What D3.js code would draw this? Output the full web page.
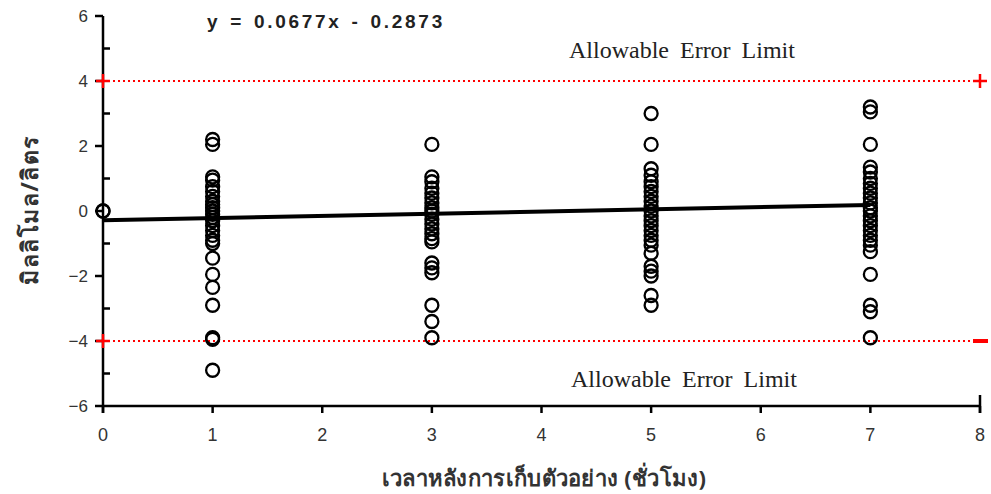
<!DOCTYPE html>
<html>
<head>
<meta charset="utf-8">
<script src="https://cdn.jsdelivr.net/npm/d3@7/dist/d3.min.js"></script>
<style>
  html, body { margin: 0; padding: 0; background: #fff; }
  svg { display: block; }
</style>
</head>
<body>
<svg id="chart" width="991" height="494"></svg>
<script>
// Sampling times (hours) and measured differences (mmol/L) at each time
const hours = [0, 1, 3, 5, 7];
const diffAt0 = [0.0, 0.0];
const diffAt1 = [2.2, 2.05, 1.05, 0.95, 0.75, 0.6, 0.45, 0.3, 0.2, 0.1, 0.0, -0.1, -0.2, -0.3, -0.45, -0.6, -0.75, -0.9, -1.0,
                 -1.45, -1.95, -2.35, -2.9, -3.9, -3.95, -4.9];
const diffAt3 = [2.05, 1.05, 0.9, 0.7, 0.55, 0.4, 0.25, 0.1, 0.0, -0.1, -0.25, -0.4, -0.55, -0.7, -0.85, -0.95,
                 -1.6, -1.75, -1.9, -2.9, -3.4, -3.9];
const diffAt5 = [3.0, 2.05, 1.3, 1.1, 0.9, 0.75, 0.6, 0.45, 0.3, 0.15, 0.0, -0.15, -0.3, -0.45, -0.6, -0.75, -0.9, -1.05,
                 -1.3, -1.7, -1.85, -2.0, -2.6, -2.9];
const diffAt7 = [3.2, 3.05, 2.05, 1.35, 1.2, 1.0, 0.85, 0.7, 0.55, 0.4, 0.25, 0.1, 0.0, -0.15, -0.3, -0.45, -0.6, -0.75,
                 -0.9, -1.05, -1.25, -1.95, -2.9, -3.1, -3.9];

// Regression fit and error limits
const slope = 0.0677;
const intercept = -0.2873;
const fitRange = [0, 7];
const errorLimit = 4;

// Axis ticks
const xTicks = [0, 1, 2, 3, 4, 5, 6, 7, 8];
const yMajorTicks = [-6, -4, -2, 0, 2, 4, 6];
const yMinorTicks = [-5, -3, -1, 1, 3, 5];

const equationText = "y = 0.0677x - 0.2873";
const limitText = "Allowable Error Limit";
const xTitle = "เวลาหลังการเก็บตัวอย่าง (ชั่วโมง)";
const yTitle = "มิลลิโมล/ลิตร";

const svg = d3.select("#chart");
const x = d3.scaleLinear().domain([0, 8]).range([103, 980]);
const y = d3.scaleLinear().domain([-6, 6]).range([406, 16]);

const points = [];
[diffAt0, diffAt1, diffAt3, diffAt5, diffAt7].forEach((arr, i) => {
  arr.forEach(v => points.push({ h: hours[i], v }));
});

// Error limit lines
svg.selectAll("line.limit")
  .data([errorLimit, -errorLimit])
  .join("line")
  .attr("x1", x(0)).attr("x2", x(8))
  .attr("y1", d => y(d)).attr("y2", d => y(d))
  .attr("stroke", "#ff0000")
  .attr("stroke-width", 2)
  .attr("stroke-dasharray", "2,3");

// Axes
const axisG = svg.append("g").attr("stroke", "#000").attr("stroke-width", 2.5);
axisG.append("line").attr("x1", x(0)).attr("x2", x(0)).attr("y1", y(6)).attr("y2", y(-6) + 7);
axisG.append("line").attr("x1", x(0)).attr("x2", x(8)).attr("y1", y(-6)).attr("y2", y(-6));
// end tick at 8 crosses the axis
axisG.append("line").attr("x1", x(8)).attr("x2", x(8)).attr("y1", y(-6) - 11).attr("y2", y(-6) + 7);

// X ticks
axisG.selectAll("line.xt").data(xTicks).join("line")
  .attr("x1", d => x(d)).attr("x2", d => x(d))
  .attr("y1", y(-6)).attr("y2", y(-6) + 7);

// Y ticks: majors outward, minors inward
axisG.selectAll("line.ymaj").data(yMajorTicks).join("line")
  .attr("x1", x(0) - 8).attr("x2", x(0))
  .attr("y1", d => y(d)).attr("y2", d => y(d));
axisG.selectAll("line.ymin").data(yMinorTicks).join("line")
  .attr("x1", x(0)).attr("x2", x(0) + 7)
  .attr("y1", d => y(d)).attr("y2", d => y(d));

// Tick labels
svg.selectAll("text.ylab").data(yMajorTicks).join("text")
  .attr("x", 88).attr("y", d => y(d) + 6)
  .attr("text-anchor", "end")
  .attr("font-family", "Liberation Sans, Arial, sans-serif")
  .attr("font-size", 17)
  .attr("fill", "#333")
  .text(d => d < 0 ? "\u2212" + Math.abs(d) : d);

svg.selectAll("text.xlab").data(xTicks).join("text")
  .attr("x", d => x(d)).attr("y", 441)
  .attr("text-anchor", "middle")
  .attr("font-family", "Liberation Sans Narrow, Arial Narrow, sans-serif")
  .attr("font-size", 18)
  .attr("fill", "#333")
  .text(d => d);

// Error limit markers
const red = svg.append("g").attr("stroke", "#ff0000").attr("stroke-width", 2.5);
[[0, errorLimit], [8, errorLimit], [0, -errorLimit]].forEach(([hx, vy]) => {
  red.append("line").attr("x1", x(hx) - 7).attr("x2", x(hx) + 7).attr("y1", y(vy)).attr("y2", y(vy));
  red.append("line").attr("x1", x(hx)).attr("x2", x(hx)).attr("y1", y(vy) - 7).attr("y2", y(vy) + 7);
});
red.append("line").attr("x1", x(8) - 7).attr("x2", x(8) + 8)
  .attr("y1", y(-errorLimit)).attr("y2", y(-errorLimit)).attr("stroke-width", 4);

// Data points
svg.append("g").selectAll("circle").data(points).join("circle")
  .attr("cx", d => x(d.h)).attr("cy", d => y(d.v))
  .attr("r", 6.5)
  .attr("fill", "none")
  .attr("stroke", "#000")
  .attr("stroke-width", 2.3);

// Regression line
svg.append("line")
  .attr("x1", x(fitRange[0])).attr("y1", y(slope * fitRange[0] + intercept))
  .attr("x2", x(fitRange[1])).attr("y2", y(slope * fitRange[1] + intercept))
  .attr("stroke", "#000").attr("stroke-width", 4);

// Equation
svg.append("text")
  .attr("x", 207).attr("y", 28)
  .attr("font-family", "Liberation Sans, Arial, sans-serif")
  .attr("font-weight", "bold")
  .attr("font-size", 19)
  .attr("letter-spacing", 2.7)
  .attr("word-spacing", 2)
  .attr("fill", "#222")
  .style("white-space", "pre")
  .text(equationText);

// Limit labels
svg.selectAll("text.lim").data([58, 387]).join("text")
  .attr("x", (d, i) => i === 0 ? 569 : 571).attr("y", d => d)
  .attr("font-family", "Liberation Serif, Times New Roman, serif")
  .attr("font-size", 24)
  .attr("word-spacing", 5)
  .attr("fill", "#222")
  .style("white-space", "pre")
  .text(limitText);

// Axis titles
svg.append("text")
  .attr("x", 544).attr("y", 486)
  .attr("text-anchor", "middle")
  .attr("font-family", "Noto Sans, Liberation Sans, sans-serif")
  .attr("font-weight", "bold")
  .attr("font-size", 22)
  .attr("letter-spacing", 0.3)
  .attr("fill", "#333")
  .text(xTitle);

svg.append("text")
  .attr("transform", "translate(38,210) rotate(-90)")
  .attr("text-anchor", "middle")
  .attr("font-family", "Noto Sans, Liberation Sans, sans-serif")
  .attr("font-weight", "bold")
  .attr("font-size", 23)
  .attr("letter-spacing", 1.5)
  .attr("fill", "#333")
  .text(yTitle);
</script>
</body>
</html>
